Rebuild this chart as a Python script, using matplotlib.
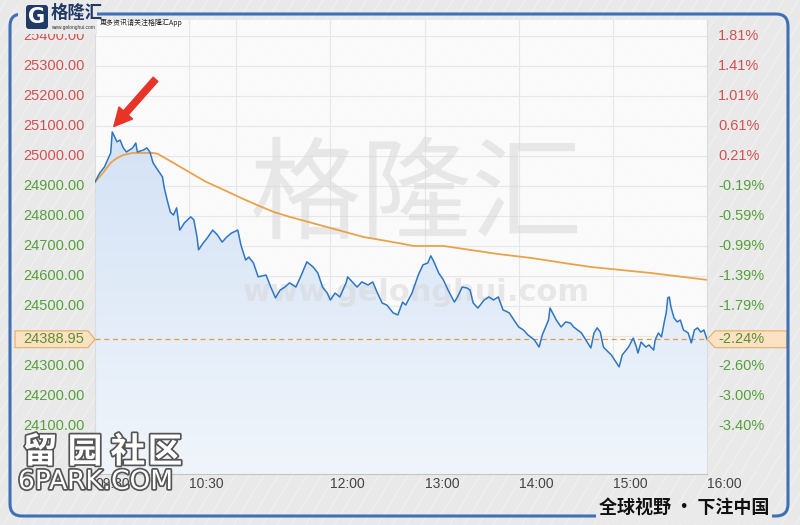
import numpy as np
import matplotlib.pyplot as plt
from matplotlib.patches import Polygon, FancyBboxPatch, Rectangle
from matplotlib.lines import Line2D
from matplotlib.colors import LinearSegmentedColormap
from matplotlib.transforms import blended_transform_factory
import matplotlib.patheffects as pe

plt.rcParams['font.family'] = ['Liberation Sans', 'Noto Sans CJK SC', 'DejaVu Sans']

# minutes after 09:30, index level
minutes = [0, 3, 6, 10, 11, 14, 16, 18, 20, 24, 26, 27, 31, 33, 35, 37, 40, 43, 44, 46,
           48, 50, 52, 54, 57, 61, 63, 65, 66, 69, 72, 75, 78, 81, 84, 87, 91, 93, 96, 98,
           101, 104, 109, 112, 115, 118, 121, 124, 128, 131, 135, 139, 142, 145, 148, 150,
           153, 156, 160, 161, 164, 167, 170, 174, 177, 180, 183, 186, 190, 193, 196, 198,
           202, 206, 209, 212, 214, 216, 219, 222, 225, 229, 231, 234, 237, 239, 241, 244,
           248, 251, 254, 257, 260, 264, 267, 270, 273, 276, 280, 283, 285, 289, 290, 294,
           297, 300, 303, 305, 310, 314, 316, 318, 320, 322, 324, 327, 329, 332, 334, 336,
           340, 343, 345, 346, 348, 351, 353, 356, 357, 359, 361, 363, 364, 365, 366, 367,
           369, 371, 373, 375, 378, 380, 382, 384, 386, 388, 390]
price = [24913, 24943, 24963, 25010, 25080, 25047, 25053, 25027, 25013, 25027, 25043, 25013,
         25020, 25027, 25013, 24977, 24953, 24930, 24897, 24853, 24813, 24803, 24827, 24753,
         24777, 24797, 24787, 24730, 24687, 24710, 24730, 24753, 24737, 24713, 24730, 24743,
         24753, 24703, 24653, 24663, 24643, 24597, 24603, 24563, 24527, 24553, 24563, 24577,
         24563, 24597, 24647, 24630, 24610, 24563, 24543, 24520, 24543, 24530, 24577, 24597,
         24580, 24563, 24580, 24570, 24580, 24543, 24510, 24503, 24477, 24470, 24513, 24503,
         24543, 24603, 24637, 24643, 24667, 24647, 24610, 24587, 24553, 24513, 24530, 24563,
         24560, 24553, 24510, 24493, 24520, 24530, 24520, 24530, 24487, 24477, 24453, 24430,
         24420, 24403, 24387, 24363, 24403, 24453, 24493, 24453, 24430, 24447, 24443, 24430,
         24410, 24377, 24360, 24410, 24427, 24413, 24363, 24347, 24337, 24313, 24297, 24337,
         24363, 24393, 24363, 24343, 24380, 24363, 24370, 24353, 24387, 24410, 24397, 24453,
         24477, 24527, 24530, 24497, 24460, 24447, 24453, 24420, 24410, 24377, 24420, 24427,
         24413, 24420, 24389]

avg_minutes = [0, 5, 10, 14, 18, 24, 34, 37, 40, 50, 61, 71, 82, 93, 103, 114, 124, 150,
               171, 193, 203, 222, 235, 257, 278, 299, 316, 354, 390]
avg_price = [24913, 24943, 24977, 24993, 25003, 25010, 25010, 25010, 25007, 24977, 24943,
             24913, 24887, 24860, 24837, 24813, 24797, 24760, 24730, 24710, 24700, 24700,
             24690, 24673, 24660, 24643, 24630, 24610, 24587]

prev_close = 24947.6
last_price = 24388.95
last_pct = '-2.24%'

price_ticks = [25400, 25300, 25200, 25100, 25000, 24900, 24800, 24700, 24600, 24500,
               24300, 24200, 24100]
pct_labels = ['1.81%', '1.41%', '1.01%', '0.61%', '0.21%', '-0.19%', '-0.59%', '-0.99%',
              '-1.39%', '-1.79%', '-2.60%', '-3.00%', '-3.40%']
grid_levels = [25400, 25300, 25200, 25100, 25000, 24900, 24800, 24700, 24600, 24500,
               24400, 24300, 24200, 24100, 24000]
time_ticks = [0, 60, 150, 210, 270, 330, 390]
time_labels = ['09:30', '10:30', '12:00', '13:00', '14:00', '15:00', '16:00']
grid_minutes = [60, 90, 150, 210, 270, 330]

W, H = 800, 525
ylo, yhi = 23940, 25453
red = '#d65050'
green = '#55a03a'

fig = plt.figure(figsize=(8, 5.25), dpi=100)
fig.patch.set_facecolor('#e9e9e9')

# diagonal background streaks
for x0 in np.arange(-0.5, 1.0, 0.018):
    fig.add_artist(Line2D([x0, x0 + 0.4], [0, 1], transform=fig.transFigure,
                          color='white', lw=1.0, alpha=0.3, zorder=0))

ax = fig.add_axes([95 / W, 1 - 474 / H, 612 / W, 454 / H])
ax.set_facecolor('#fcfcfc')
ax.patch.set_alpha(0.95)
ax.set_xlim(0, 390)
ax.set_ylim(ylo, yhi)
ax.set_xticks([])
ax.set_yticks([])
ax.spines['top'].set_visible(False)
for s in ['left', 'right']:
    ax.spines[s].set_color('#dcdcdc')
ax.spines['bottom'].set_color('#c4c4c4')

for g in grid_levels:
    ax.axhline(g, color='#e4e7eb', lw=0.8, zorder=0.5)
for m in grid_minutes:
    ax.axvline(m, color='#e4e7eb', lw=0.8, zorder=0.5)

# watermark
ax.text(205, 24860, '格隆汇', fontsize=80, color='#d8d8d8', alpha=0.55,
        ha='center', va='center', family=['Noto Sans CJK SC'], zorder=2)
ax.text(205, 24545, 'www.gelonghui.com', fontsize=22, fontweight='bold',
        color='#d8d8d8', alpha=0.55, ha='center', va='center',
        family=['DejaVu Sans'], zorder=2)

# gradient fill under price line
cmap = LinearSegmentedColormap.from_list('fill', ['#f0f5fb', '#d3e2f5'])
grad = np.linspace(0, 1, 256).reshape(-1, 1)
im = ax.imshow(grad, extent=[0, 390, ylo, 25100], origin='lower', aspect='auto',
               cmap=cmap, zorder=1)
verts = list(zip(minutes, price)) + [(390, ylo), (0, ylo)]
clip = Polygon(verts, closed=True, facecolor='none', edgecolor='none',
               transform=ax.transData)
ax.add_patch(clip)
im.set_clip_path(clip)
ax.set_xlim(0, 390)
ax.set_ylim(ylo, yhi)

ax.plot(avg_minutes, avg_price, color='#eaa24a', lw=1.3, zorder=3)
ax.plot(minutes, price, color='#2f76c2', lw=1.1, zorder=4)
ax.axhline(last_price, color='#e6984a', lw=0.9, ls=(0, (4, 3)), zorder=3)

# red arrow to the high
ax.annotate('', xy=(12, 25098), xytext=(30, 34), textcoords='offset points',
            arrowprops=dict(arrowstyle='simple,head_width=1.3,head_length=1.3,tail_width=0.45',
                            color='#e83328', shrinkA=0, shrinkB=0), zorder=6)

# axis labels
bl = blended_transform_factory(fig.transFigure, ax.transData)
for p in price_ticks:
    c = red if p > prev_close else green
    ax.text(23 / W, p, f'{p:.2f}', transform=bl, ha='left', va='center',
            fontsize=10.5, color=c, clip_on=False)
for p, lab in zip(price_ticks, pct_labels):
    c = red if p > prev_close else green
    ax.text(718 / W, p, lab, transform=bl, ha='left', va='center',
            fontsize=10.5, color=c, clip_on=False)

# current value tags
hh = 28
ax.add_patch(Polygon([(15 / W, last_price - hh), (88 / W, last_price - hh),
                      (95 / W, last_price), (88 / W, last_price + hh),
                      (15 / W, last_price + hh)], closed=True, transform=bl,
                     facecolor='#fbe2c2', edgecolor='#e8aa66', lw=0.8,
                     clip_on=False, zorder=5))
ax.text(23 / W, last_price, f'{last_price:.2f}', transform=bl, ha='left',
        va='center', fontsize=10.5, color='#5c8f32', clip_on=False, zorder=6)
ax.add_patch(Polygon([(707 / W, last_price), (715 / W, last_price - hh),
                      (787 / W, last_price - hh), (787 / W, last_price + hh),
                      (715 / W, last_price + hh)], closed=True, transform=bl,
                     facecolor='#fbe2c2', edgecolor='#e8aa66', lw=0.8,
                     clip_on=False, zorder=5))
ax.text(718 / W, last_price, last_pct, transform=bl, ha='left', va='center',
        fontsize=10.5, color='#5c8f32', clip_on=False, zorder=6)

bx = blended_transform_factory(ax.transData, fig.transFigure)
for m, lab in zip(time_ticks, time_labels):
    ax.text(m, 1 - 484 / H, lab, transform=bx, ha='left', va='center',
            fontsize=10, color='#444444', clip_on=False)

# outer blue frame
frame = FancyBboxPatch((10, H - 516), 778, 502, boxstyle='round,pad=0,rounding_size=12',
                       transform=None, facecolor='none', edgecolor='#3f70b6', lw=2.2,
                       zorder=7)
fig.add_artist(frame)

# logo
fig.add_artist(Rectangle((18, H - 34), 79, 34, transform=None,
                         facecolor='#eaeaea', edgecolor='none', zorder=8))
fig.add_artist(FancyBboxPatch((26, H - 29), 22, 24, boxstyle='round,pad=0,rounding_size=3',
                              transform=None, facecolor='#1f3a64', edgecolor='none', zorder=9))
fig.text(37 / W, 1 - 17 / H, 'G', fontsize=15, fontweight='bold', color='white',
         ha='center', va='center', family=['DejaVu Sans'], zorder=10)
fig.text(51 / W, 1 - 13 / H, '格隆汇', fontsize=12.5, fontweight='bold', color='#1f3a64',
         ha='left', va='center', family=['Noto Sans CJK SC'], zorder=10)
fig.text(51 / W, 1 - 27 / H, 'www.gelonghui.com', fontsize=3.5, color='#333333',
         ha='left', va='center', zorder=10)
fig.text(100 / W, 1 - 23 / H, '更多资讯请关注格隆汇App', fontsize=5, color='#222222',
         ha='left', va='center', family=['Noto Sans CJK SC'], zorder=10)

# bottom slogan
fig.add_artist(Rectangle((596, H - 524), 176, 20, transform=None,
                         facecolor='#eaeaea', edgecolor='none', zorder=8))
fig.text(684 / W, 1 - 508 / H, '全球视野 · 下注中国', fontsize=13, fontweight='bold',
         color='#111111', ha='center', va='center',
         family=['Noto Sans CJK SC', 'DejaVu Sans'], zorder=10)

# 6park watermark
stroke = [pe.withStroke(linewidth=2.5, foreground='#555555')]
for ch, cx in zip('留园社区', [40, 85, 128, 165]):
    fig.text(cx / W, 1 - 452 / H, ch, fontsize=25, fontweight='bold', color='white',
             ha='center', va='center', family=['Noto Sans CJK SC'],
             path_effects=stroke, zorder=11)
fig.text(18 / W, 1 - 482 / H, '6PARK.COM', fontsize=19, color='white', ha='left',
         va='center', family=['DejaVu Sans'], path_effects=stroke, zorder=11)

fig.savefig('out.png', dpi=100, facecolor=fig.get_facecolor())
